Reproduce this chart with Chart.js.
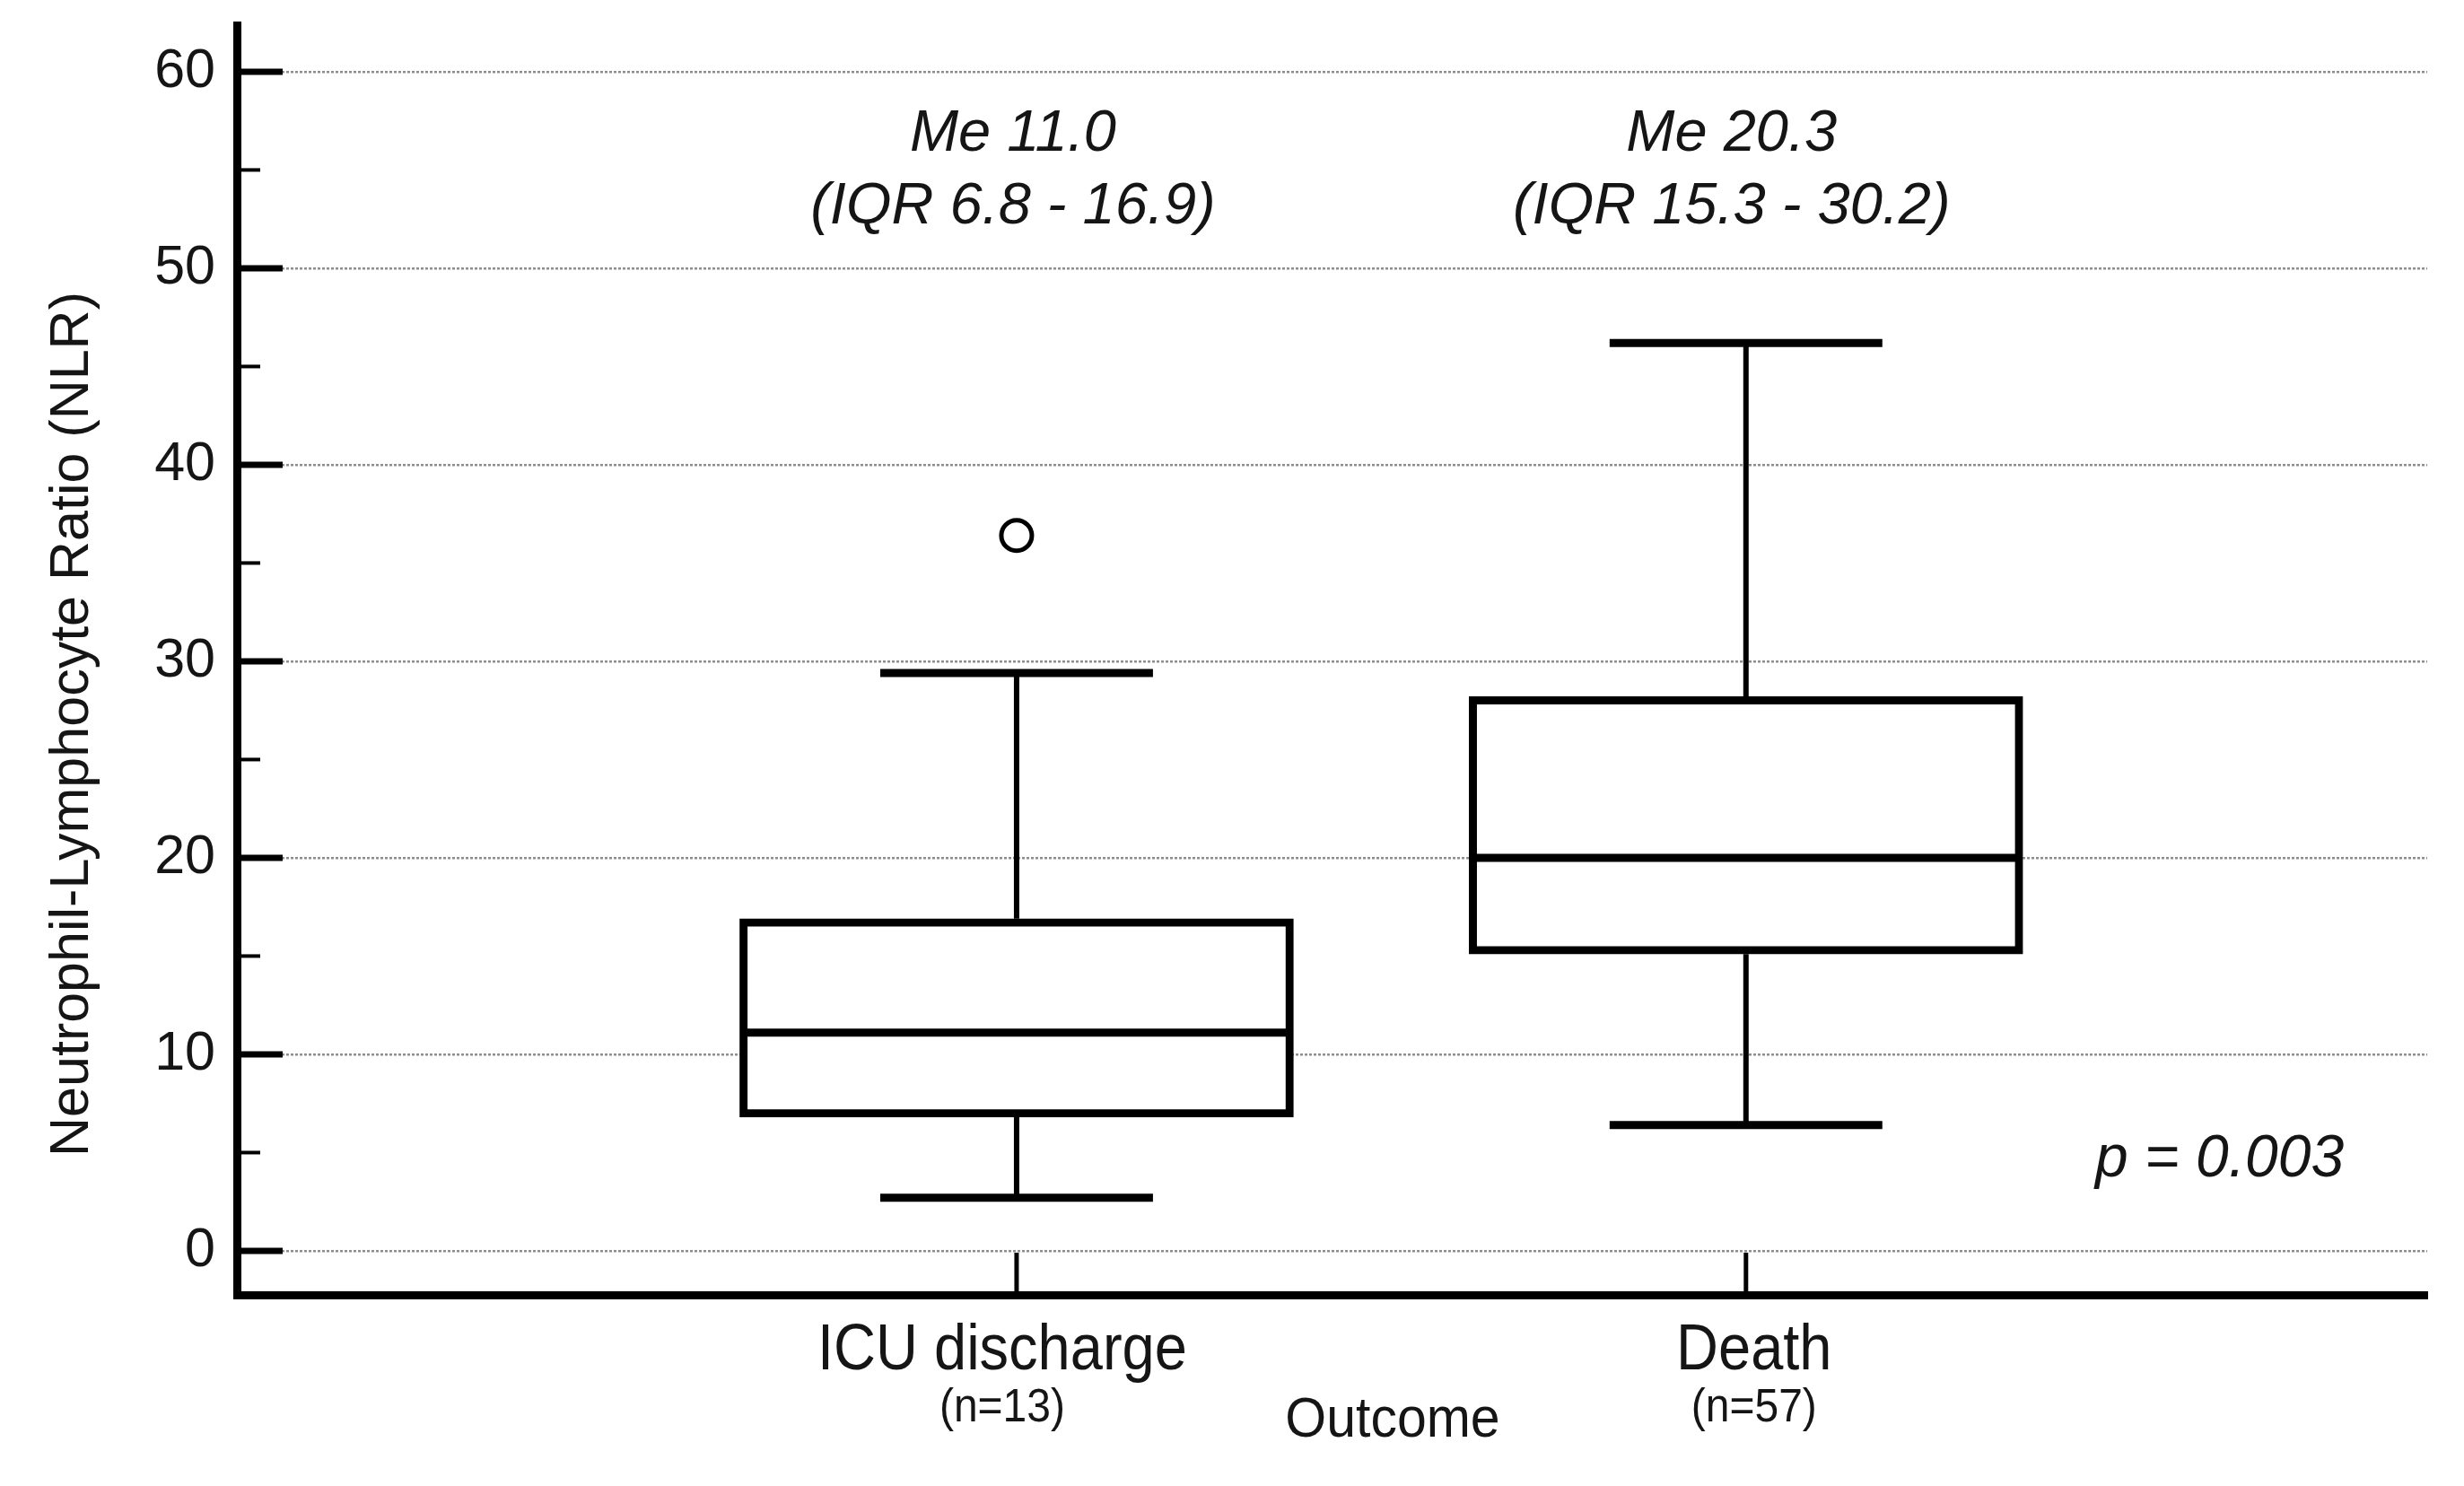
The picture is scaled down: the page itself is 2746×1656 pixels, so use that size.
<!DOCTYPE html>
<html>
<head>
<meta charset="utf-8">
<script src="https://cdn.jsdelivr.net/npm/chart.js@4.4.1/dist/chart.umd.min.js"></script>
<style>
html,body{margin:0;padding:0;background:#ffffff;}
#wrap{width:2746px;height:1656px;}
</style>
</head>
<body>
<div id="wrap"><canvas id="c" width="2746" height="1656"></canvas></div>
<script>
// ---- data ----
const categories   = ['ICU discharge', 'Death'];
const groupSizes   = ['(n=13)', '(n=57)'];
const whiskerLow   = [2.7, 6.4];
const quartile1    = [6.8, 15.1];
const medians      = [11.1, 20.0];
const quartile3    = [16.9, 28.2];
const whiskerHigh  = [29.4, 46.2];
const outlierVals  = [[36.4], []];
const medianLabels = ['Me 11.0', 'Me 20.3'];
const iqrLabels    = ['(IQR 6.8 - 16.9)', '(IQR 15.3 - 30.2)'];
const pValueLabel  = 'p = 0.003';
const yMajorTicks  = [0, 10, 20, 30, 40, 50, 60];
const yMinorTicks  = [5, 15, 25, 35, 45, 55];
const yTitle       = 'Neutrophil-Lymphocyte Ratio (NLR)';
const xTitle       = 'Outcome';

// ---- style constants ----
const FONT = '"Liberation Sans", Arial, Helvetica, sans-serif';
const INK = '#151515';
const BOX_PX = 617;          // box width in pixels
const UNIT_PX = 813;         // pixels between the two categories
const BOX_HALF = (BOX_PX / 2 - 4) / UNIT_PX;
const CAP_HALF = 152 / UNIT_PX;
const LABEL_SHIFT = [-16, 9];      // small horizontal nudges of the category labels (px)
const NOTE_SHIFT = [-4, -16];      // nudges of the Me / IQR annotations (px)

const xPos = categories.map((c, i) => i + 1);

// ---- datasets ----
const datasets = [];
datasets.push({
  type: 'bar',
  order: 3,
  data: xPos.map((x, i) => ({ x: x, y: [quartile1[i], quartile3[i]] })),
  backgroundColor: '#ffffff',
  borderColor: '#000000',
  borderWidth: 9,
  borderSkipped: false,
  barThickness: BOX_PX,
  grouped: false
});
const seg = (pts, w) => ({
  type: 'line', order: 1, data: pts, borderColor: '#000000', borderWidth: w,
  pointRadius: 0, fill: false, tension: 0, borderCapStyle: 'butt'
});
xPos.forEach((x, i) => {
  datasets.push(seg([{ x: x, y: quartile3[i] }, { x: x, y: whiskerHigh[i] }], 6));
  datasets.push(seg([{ x: x, y: whiskerLow[i] }, { x: x, y: quartile1[i] }], 6));
  datasets.push(seg([{ x: x - CAP_HALF, y: whiskerHigh[i] }, { x: x + CAP_HALF, y: whiskerHigh[i] }], 9));
  datasets.push(seg([{ x: x - CAP_HALF, y: whiskerLow[i] }, { x: x + CAP_HALF, y: whiskerLow[i] }], 9));
  datasets.push(seg([{ x: x - BOX_HALF, y: medians[i] }, { x: x + BOX_HALF, y: medians[i] }], 9));
});
const outPts = [];
xPos.forEach((x, i) => outlierVals[i].forEach(v => outPts.push({ x: x, y: v })));
datasets.push({
  type: 'line', order: 0, data: outPts, showLine: false,
  pointRadius: 17, pointStyle: 'circle', pointBorderWidth: 5,
  pointBackgroundColor: '#ffffff', pointBorderColor: '#000000'
});

// ---- custom drawing: inner ticks, labels, annotations ----
const decor = {
  id: 'decor',
  afterDraw(chart) {
    const ctx = chart.ctx;
    const ys = chart.scales.y, xs = chart.scales.x;
    const area = chart.chartArea;
    ctx.save();
    ctx.strokeStyle = '#000000';
    ctx.lineCap = 'butt';
    // y major ticks (inward)
    ctx.lineWidth = 7;
    yMajorTicks.forEach(v => {
      const y = ys.getPixelForValue(v);
      ctx.beginPath(); ctx.moveTo(area.left, y); ctx.lineTo(area.left + 51, y); ctx.stroke();
    });
    // y minor ticks
    ctx.lineWidth = 4;
    yMinorTicks.forEach(v => {
      const y = ys.getPixelForValue(v);
      ctx.beginPath(); ctx.moveTo(area.left, y); ctx.lineTo(area.left + 26, y); ctx.stroke();
    });
    // x ticks (inward)
    ctx.lineWidth = 5;
    xPos.forEach(x => {
      const px = xs.getPixelForValue(x);
      ctx.beginPath(); ctx.moveTo(px, area.bottom); ctx.lineTo(px, area.bottom - 47); ctx.stroke();
    });

    ctx.fillStyle = INK;
    ctx.textAlign = 'center';
    ctx.textBaseline = 'alphabetic';
    // category labels (slightly tall, like the reference lettering)
    xPos.forEach((x, i) => {
      const px = xs.getPixelForValue(x) + LABEL_SHIFT[i];
      ctx.save();
      ctx.translate(px, 1526);
      ctx.scale(1, 1.1);
      ctx.font = '65px ' + FONT;
      ctx.fillText(categories[i], 0, 0);
      ctx.restore();
      ctx.save();
      ctx.translate(px, 1584);
      ctx.scale(1, 1.08);
      ctx.font = '48px ' + FONT;
      ctx.fillText(groupSizes[i], 0, 0);
      ctx.restore();
    });
    // x title
    ctx.save();
    ctx.translate(1552, 1601);
    ctx.scale(1, 1.08);
    ctx.font = '59px ' + FONT;
    ctx.fillText(xTitle, 0, 0);
    ctx.restore();

    // median / IQR annotations
    ctx.font = 'italic 65px ' + FONT;
    xPos.forEach((x, i) => {
      const px = xs.getPixelForValue(x) + NOTE_SHIFT[i];
      ctx.fillText(medianLabels[i], px, 168);
      ctx.fillText(iqrLabels[i], px, 249);
    });
    // p value
    ctx.textAlign = 'left';
    ctx.font = 'italic 66px ' + FONT;
    ctx.fillText(pValueLabel, 2335, 1311);

    // y title
    ctx.translate(98, 807);
    ctx.rotate(-Math.PI / 2);
    ctx.textAlign = 'center';
    ctx.font = '61px ' + FONT;
    ctx.fillText(yTitle, 0, 0);
    ctx.restore();
  }
};

new Chart(document.getElementById('c'), {
  type: 'bar',
  data: { datasets: datasets },
  plugins: [decor],
  options: {
    responsive: false,
    devicePixelRatio: 1,
    animation: false,
    events: [],
    layout: { padding: { top: 28, right: 41, left: 0, bottom: 0 } },
    plugins: { legend: { display: false }, tooltip: { enabled: false } },
    scales: {
      x: {
        type: 'linear',
        min: -0.069,
        max: 2.934,
        offset: false,
        grid: { display: false, drawTicks: false },
        border: { display: true, color: '#000000', width: 9 },
        ticks: { display: false },
        afterFit(scale) { scale.height = 213; scale.paddingLeft = 0; scale.paddingRight = 0; }
      },
      y: {
        type: 'linear',
        min: -2.24,
        max: 62.37,
        afterBuildTicks(scale) { scale.ticks = yMajorTicks.map(v => ({ value: v })); },
        grid: { display: true, drawTicks: false, color: '#8e8e8e', lineWidth: 2.5 },
        border: { display: true, color: '#000000', width: 9, dash: [3, 2] },
        ticks: {
          font: { family: FONT, size: 61 },
          color: INK,
          padding: 24,
          callback: v => String(v)
        },
        afterFit(scale) { scale.width = 264; scale.paddingTop = 0; scale.paddingBottom = 0; }
      }
    }
  }
});
</script>
</body>
</html>
